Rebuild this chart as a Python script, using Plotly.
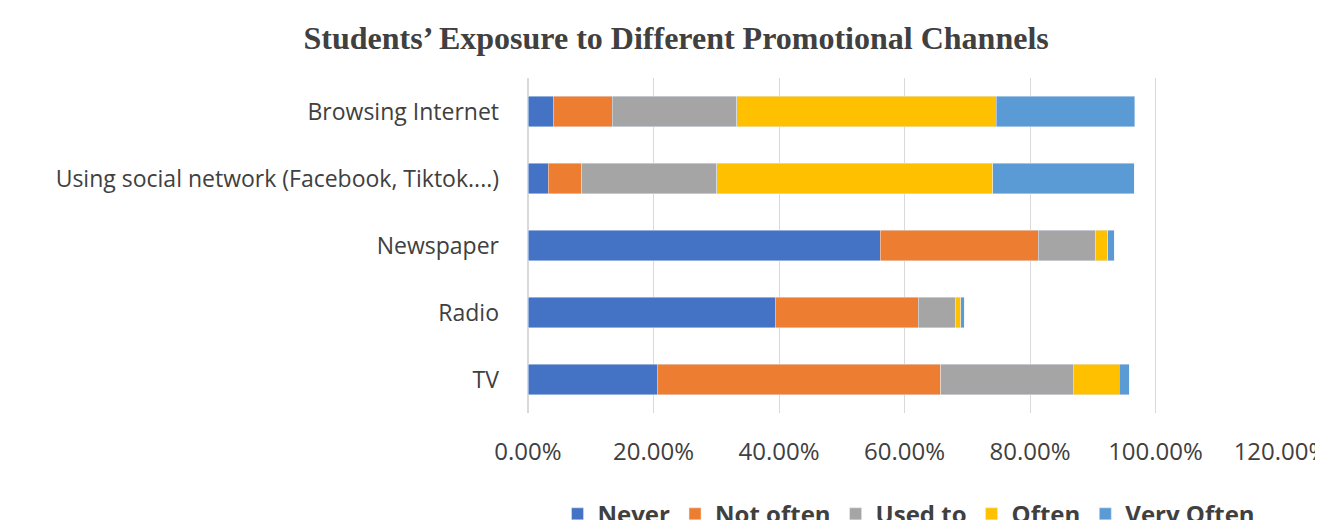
import plotly.graph_objects as go

channels = ["Browsing Internet", "Using social network (Facebook, Tiktok....)", "Newspaper", "Radio", "TV"]
never = [4.0, 3.2, 56.1, 39.4, 20.6]
not_often = [9.4, 5.4, 25.2, 22.8, 45.2]
used_to = [19.9, 21.5, 9.2, 6.0, 21.1]
often = [41.3, 44.0, 1.9, 0.8, 7.3]
very_often = [22.1, 22.5, 1.0, 0.5, 1.6]

series = [("Never", never, "#4472C4"), ("Not often", not_often, "#ED7D31"),
          ("Used to", used_to, "#A5A5A5"), ("Often", often, "#FFC000"),
          ("Very Often", very_often, "#5B9BD5")]

fig = go.Figure()
for name, vals, col in series:
    fig.add_trace(go.Bar(y=channels, x=[v / 100 for v in vals], name="<b>" + name + "</b>",
                         orientation="h", marker_color=col, width=0.45))

fig.update_layout(
    barmode="stack", width=1323, height=520, plot_bgcolor="white", paper_bgcolor="white",
    title=dict(text="<b>Students’ Exposure to Different Promotional Channels</b>", x=0.505,
               xanchor="center", y=0.965, font=dict(family="Liberation Serif", size=32, color="#404040")),
    margin=dict(l=520, r=50, t=70, b=115, autoexpand=False),
    font=dict(family="Open Sans", size=23, color="#404040"),
    legend=dict(orientation="h", x=0.506, xanchor="center", y=-0.235, yanchor="top",
                font=dict(size=24, color="#404040", family="Open Sans"), traceorder="normal"),
)
fig.update_xaxes(range=[0, 1.2], dtick=0.2, tickformat=".2%", showgrid=True, gridcolor="#D9D9D9",
                 zeroline=True, zerolinecolor="#D9D9D9", ticks="", ticklabelstandoff=22, automargin=False,
                 tickfont=dict(size=24))
fig.update_yaxes(autorange="reversed", ticks="", ticklabelstandoff=28, automargin=False,
                 tickfont=dict(size=23))
fig.write_html("out.html")
